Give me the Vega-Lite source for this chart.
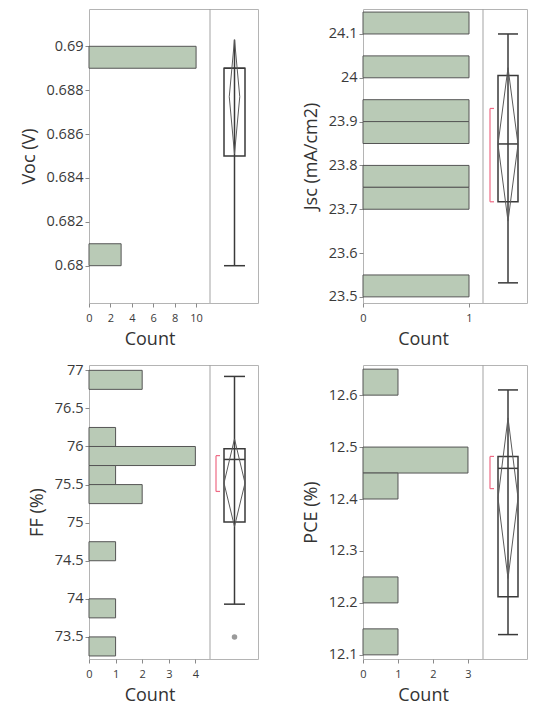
{
  "$schema": "https://vega.github.io/schema/vega-lite/v6.json",
  "autosize": {"type": "pad"},
  "padding": {"left": 19, "top": 8, "right": 0, "bottom": 0},
  "background": "white",
  "columns": 2,
  "bounds": "flush",
  "spacing": {"row": 62, "column": 105},
  "concat": [
    {
      "width": 169, "height": 294,
      "data": {"values": [{"min": 0.680, "q1": 0.685, "med": 0.689, "q3": 0.689, "max": 0.6903, "mean": 0.6877, "ciLo": 0.6851, "ciHi": 0.6903}]},
      "layer": [
        {
          "data": {"values": [{"lo": 0.689, "hi": 0.690, "n": 10}, {"lo": 0.680, "hi": 0.681, "n": 3}]},
          "mark": {"type": "rect", "fill": "#b9cab6", "stroke": "#555555", "strokeWidth": 1},
          "encoding": {
            "x": {"field": "n", "type": "quantitative", "scale": {"domain": [0, 11.3], "range": [0, 121], "nice": false, "zero": true}, "axis": {"values": [0, 2, 4, 6, 8, 10], "title": "Count", "format": "d", "labelOverlap": false}},
            "x2": {"datum": 0},
            "y": {"field": "lo", "type": "quantitative", "scale": {"domain": [0.6783, 0.6917], "nice": false, "zero": false},
              "axis": {"title": "Voc (V)", "values": [0.68, 0.681, 0.682, 0.683, 0.684, 0.685, 0.686, 0.687, 0.688, 0.689, 0.69, 0.691],
                "labelExpr": "round(datum.value*1000) % 2 == 1 ? '' : format(datum.value, '~g')", "labelOverlap": false,
                "tickSize": {"condition": {"test": "round(datum.value*1000) % 2 == 1", "value": 2.5}, "value": 4}}},
            "y2": {"field": "hi"}
          }
        },
        {
          "data": {"values": [{}]},
          "mark": {"type": "rule", "color": "#a3a3a3", "strokeWidth": 1},
          "encoding": {"x": {"datum": 11.3, "type": "quantitative", "scale": {"domain": [0, 11.3], "range": [0, 121], "nice": false, "zero": true}, "axis": null}}
        },
        {"mark": {"type": "rule", "color": "#3a3a3a", "strokeWidth": 1.5},
         "encoding": {"x": {"datum": "C", "type": "nominal", "scale": {"type": "point", "domain": ["L", "DL", "C", "DR", "R"], "range": [135, 156], "padding": 0}, "axis": null},
           "y": {"field": "min", "type": "quantitative"}, "y2": {"field": "max"}}},
        {"mark": {"type": "rect", "fill": "transparent", "stroke": "#3a3a3a", "strokeWidth": 1.5},
         "encoding": {"x": {"datum": "L", "type": "nominal", "scale": {"type": "point", "domain": ["L", "DL", "C", "DR", "R"], "range": [135, 156], "padding": 0}, "axis": null}, "x2": {"datum": "R"},
           "y": {"field": "q1", "type": "quantitative"}, "y2": {"field": "q3"}}},
        {"mark": {"type": "rule", "color": "#3a3a3a", "strokeWidth": 1.5},
         "encoding": {"x": {"datum": "L", "type": "nominal", "scale": {"type": "point", "domain": ["L", "DL", "C", "DR", "R"], "range": [135, 156], "padding": 0}, "axis": null}, "x2": {"datum": "R"},
           "y": {"field": "min", "type": "quantitative"}}},
        {"mark": {"type": "rule", "color": "#3a3a3a", "strokeWidth": 1.5},
         "encoding": {"x": {"datum": "L", "type": "nominal", "scale": {"type": "point", "domain": ["L", "DL", "C", "DR", "R"], "range": [135, 156], "padding": 0}, "axis": null}, "x2": {"datum": "R"},
           "y": {"field": "med", "type": "quantitative"}}},
        {"mark": {"type": "rule", "color": "#5a5a5a", "strokeWidth": 1},
         "encoding": {"x": {"datum": "C", "type": "nominal", "scale": {"type": "point", "domain": ["L", "DL", "C", "DR", "R"], "range": [135, 156], "padding": 0}, "axis": null}, "x2": {"datum": "DR"},
           "y": {"field": "ciHi", "type": "quantitative"}, "y2": {"field": "mean"}}},
        {"mark": {"type": "rule", "color": "#5a5a5a", "strokeWidth": 1},
         "encoding": {"x": {"datum": "C", "type": "nominal", "scale": {"type": "point", "domain": ["L", "DL", "C", "DR", "R"], "range": [135, 156], "padding": 0}, "axis": null}, "x2": {"datum": "DR"},
           "y": {"field": "ciLo", "type": "quantitative"}, "y2": {"field": "mean"}}},
        {"mark": {"type": "rule", "color": "#5a5a5a", "strokeWidth": 1},
         "encoding": {"x": {"datum": "C", "type": "nominal", "scale": {"type": "point", "domain": ["L", "DL", "C", "DR", "R"], "range": [135, 156], "padding": 0}, "axis": null}, "x2": {"datum": "DL"},
           "y": {"field": "ciHi", "type": "quantitative"}, "y2": {"field": "mean"}}},
        {"mark": {"type": "rule", "color": "#5a5a5a", "strokeWidth": 1},
         "encoding": {"x": {"datum": "C", "type": "nominal", "scale": {"type": "point", "domain": ["L", "DL", "C", "DR", "R"], "range": [135, 156], "padding": 0}, "axis": null}, "x2": {"datum": "DL"},
           "y": {"field": "ciLo", "type": "quantitative"}, "y2": {"field": "mean"}}}
      ],
      "resolve": {"scale": {"x": "independent"}, "axis": {"x": "independent"}}
    },
    {
      "width": 164, "height": 294,
      "data": {"values": [{"min": 23.532, "q1": 23.717, "med": 23.849, "q3": 24.005, "max": 24.10, "mean": 23.848, "ciLo": 23.673, "ciHi": 24.023, "shLo": 23.717, "shHi": 23.93}]},
      "layer": [
        {
          "data": {"values": [
            {"lo": 24.10, "hi": 24.15, "n": 1}, {"lo": 24.00, "hi": 24.05, "n": 1}, {"lo": 23.90, "hi": 23.95, "n": 1},
            {"lo": 23.85, "hi": 23.90, "n": 1}, {"lo": 23.75, "hi": 23.80, "n": 1}, {"lo": 23.70, "hi": 23.75, "n": 1},
            {"lo": 23.50, "hi": 23.55, "n": 1}]},
          "mark": {"type": "rect", "fill": "#b9cab6", "stroke": "#555555", "strokeWidth": 1},
          "encoding": {
            "x": {"field": "n", "type": "quantitative", "scale": {"domain": [0, 1.132], "range": [0, 120], "nice": false, "zero": true}, "axis": {"values": [0, 1], "title": "Count", "format": "d", "labelOverlap": false}},
            "x2": {"datum": 0},
            "y": {"field": "lo", "type": "quantitative", "scale": {"domain": [23.486, 24.157], "nice": false, "zero": false},
              "axis": {"title": "Jsc (mA/cm2)", "values": [23.5, 23.55, 23.6, 23.65, 23.7, 23.75, 23.8, 23.85, 23.9, 23.95, 24.0, 24.05, 24.1, 24.15],
                "labelExpr": "round(datum.value*100) % 10 == 5 ? '' : format(datum.value, '~g')", "labelOverlap": false,
                "tickSize": {"condition": {"test": "round(datum.value*100) % 10 == 5", "value": 2.5}, "value": 4}}},
            "y2": {"field": "hi"}
          }
        },
        {
          "data": {"values": [{}]},
          "mark": {"type": "rule", "color": "#a3a3a3", "strokeWidth": 1},
          "encoding": {"x": {"datum": 1.132, "type": "quantitative", "scale": {"domain": [0, 1.132], "range": [0, 120], "nice": false, "zero": true}, "axis": null}}
        },
        {"mark": {"type": "rule", "color": "#3a3a3a", "strokeWidth": 1.5},
         "encoding": {"x": {"datum": "C", "type": "nominal", "scale": {"type": "point", "domain": ["L", "DL", "C", "DR", "R"], "range": [135, 155], "padding": 0}, "axis": null},
           "y": {"field": "min", "type": "quantitative"}, "y2": {"field": "max"}}},
        {"mark": {"type": "rect", "fill": "transparent", "stroke": "#3a3a3a", "strokeWidth": 1.5},
         "encoding": {"x": {"datum": "L", "type": "nominal", "scale": {"type": "point", "domain": ["L", "DL", "C", "DR", "R"], "range": [135, 155], "padding": 0}, "axis": null}, "x2": {"datum": "R"},
           "y": {"field": "q1", "type": "quantitative"}, "y2": {"field": "q3"}}},
        {"mark": {"type": "rule", "color": "#3a3a3a", "strokeWidth": 1.5},
         "encoding": {"x": {"datum": "L", "type": "nominal", "scale": {"type": "point", "domain": ["L", "DL", "C", "DR", "R"], "range": [135, 155], "padding": 0}, "axis": null}, "x2": {"datum": "R"},
           "y": {"field": "min", "type": "quantitative"}}},
        {"mark": {"type": "rule", "color": "#3a3a3a", "strokeWidth": 1.5},
         "encoding": {"x": {"datum": "L", "type": "nominal", "scale": {"type": "point", "domain": ["L", "DL", "C", "DR", "R"], "range": [135, 155], "padding": 0}, "axis": null}, "x2": {"datum": "R"},
           "y": {"field": "max", "type": "quantitative"}}},
        {"mark": {"type": "rule", "color": "#3a3a3a", "strokeWidth": 1.5},
         "encoding": {"x": {"datum": "L", "type": "nominal", "scale": {"type": "point", "domain": ["L", "DL", "C", "DR", "R"], "range": [135, 155], "padding": 0}, "axis": null}, "x2": {"datum": "R"},
           "y": {"field": "med", "type": "quantitative"}}},
        {"mark": {"type": "rule", "color": "#5a5a5a", "strokeWidth": 1},
         "encoding": {"x": {"datum": "C", "type": "nominal", "scale": {"type": "point", "domain": ["L", "DL", "C", "DR", "R"], "range": [135, 155], "padding": 0}, "axis": null}, "x2": {"datum": "R"},
           "y": {"field": "ciHi", "type": "quantitative"}, "y2": {"field": "mean"}}},
        {"mark": {"type": "rule", "color": "#5a5a5a", "strokeWidth": 1},
         "encoding": {"x": {"datum": "C", "type": "nominal", "scale": {"type": "point", "domain": ["L", "DL", "C", "DR", "R"], "range": [135, 155], "padding": 0}, "axis": null}, "x2": {"datum": "R"},
           "y": {"field": "ciLo", "type": "quantitative"}, "y2": {"field": "mean"}}},
        {"mark": {"type": "rule", "color": "#5a5a5a", "strokeWidth": 1},
         "encoding": {"x": {"datum": "C", "type": "nominal", "scale": {"type": "point", "domain": ["L", "DL", "C", "DR", "R"], "range": [135, 155], "padding": 0}, "axis": null}, "x2": {"datum": "L"},
           "y": {"field": "ciHi", "type": "quantitative"}, "y2": {"field": "mean"}}},
        {"mark": {"type": "rule", "color": "#5a5a5a", "strokeWidth": 1},
         "encoding": {"x": {"datum": "C", "type": "nominal", "scale": {"type": "point", "domain": ["L", "DL", "C", "DR", "R"], "range": [135, 155], "padding": 0}, "axis": null}, "x2": {"datum": "L"},
           "y": {"field": "ciLo", "type": "quantitative"}, "y2": {"field": "mean"}}},
        {"mark": {"type": "rule", "color": "#ee6a84", "strokeWidth": 1.2, "xOffset": -8},
         "encoding": {"x": {"datum": "L", "type": "nominal", "scale": {"type": "point", "domain": ["L", "DL", "C", "DR", "R"], "range": [135, 155], "padding": 0}, "axis": null},
           "y": {"field": "shLo", "type": "quantitative"}, "y2": {"field": "shHi"}}},
        {"mark": {"type": "rule", "color": "#ee6a84", "strokeWidth": 1.2, "xOffset": -8, "x2Offset": -4},
         "encoding": {"x": {"datum": "L", "type": "nominal", "scale": {"type": "point", "domain": ["L", "DL", "C", "DR", "R"], "range": [135, 155], "padding": 0}, "axis": null}, "x2": {"datum": "L"},
           "y": {"field": "shLo", "type": "quantitative"}}},
        {"mark": {"type": "rule", "color": "#ee6a84", "strokeWidth": 1.2, "xOffset": -8, "x2Offset": -4},
         "encoding": {"x": {"datum": "L", "type": "nominal", "scale": {"type": "point", "domain": ["L", "DL", "C", "DR", "R"], "range": [135, 155], "padding": 0}, "axis": null}, "x2": {"datum": "L"},
           "y": {"field": "shHi", "type": "quantitative"}}}
      ],
      "resolve": {"scale": {"x": "independent"}, "axis": {"x": "independent"}}
    },
    {
      "width": 169, "height": 294,
      "data": {"values": [{"min": 73.93, "q1": 75.01, "med": 75.83, "q3": 75.97, "max": 76.92, "mean": 75.52, "ciLo": 74.95, "ciHi": 76.1, "shLo": 75.41, "shHi": 75.88, "out": 73.5}]},
      "layer": [
        {
          "data": {"values": [
            {"lo": 76.75, "hi": 77.00, "n": 2}, {"lo": 76.00, "hi": 76.25, "n": 1}, {"lo": 75.75, "hi": 76.00, "n": 4},
            {"lo": 75.50, "hi": 75.75, "n": 1}, {"lo": 75.25, "hi": 75.50, "n": 2}, {"lo": 74.50, "hi": 74.75, "n": 1},
            {"lo": 73.75, "hi": 74.00, "n": 1}, {"lo": 73.25, "hi": 73.50, "n": 1}]},
          "mark": {"type": "rect", "fill": "#b9cab6", "stroke": "#555555", "strokeWidth": 1},
          "encoding": {
            "x": {"field": "n", "type": "quantitative", "scale": {"domain": [0, 4.55], "range": [0, 121], "nice": false, "zero": true}, "axis": {"values": [0, 1, 2, 3, 4], "title": "Count", "format": "d", "labelOverlap": false}},
            "x2": {"datum": 0},
            "y": {"field": "lo", "type": "quantitative", "scale": {"domain": [73.21, 77.07], "nice": false, "zero": false},
              "axis": {"title": "FF (%)", "values": [73.5, 73.75, 74, 74.25, 74.5, 74.75, 75, 75.25, 75.5, 75.75, 76, 76.25, 76.5, 76.75, 77],
                "labelExpr": "round(datum.value*100) % 50 == 25 ? '' : format(datum.value, '~g')", "labelOverlap": false,
                "tickSize": {"condition": {"test": "round(datum.value*100) % 50 == 25", "value": 2.5}, "value": 4}}},
            "y2": {"field": "hi"}
          }
        },
        {
          "data": {"values": [{}]},
          "mark": {"type": "rule", "color": "#a3a3a3", "strokeWidth": 1},
          "encoding": {"x": {"datum": 4.55, "type": "quantitative", "scale": {"domain": [0, 4.55], "range": [0, 121], "nice": false, "zero": true}, "axis": null}}
        },
        {"mark": {"type": "rule", "color": "#3a3a3a", "strokeWidth": 1.5},
         "encoding": {"x": {"datum": "C", "type": "nominal", "scale": {"type": "point", "domain": ["L", "DL", "C", "DR", "R"], "range": [135, 156], "padding": 0}, "axis": null},
           "y": {"field": "min", "type": "quantitative"}, "y2": {"field": "max"}}},
        {"mark": {"type": "rect", "fill": "transparent", "stroke": "#3a3a3a", "strokeWidth": 1.5},
         "encoding": {"x": {"datum": "L", "type": "nominal", "scale": {"type": "point", "domain": ["L", "DL", "C", "DR", "R"], "range": [135, 156], "padding": 0}, "axis": null}, "x2": {"datum": "R"},
           "y": {"field": "q1", "type": "quantitative"}, "y2": {"field": "q3"}}},
        {"mark": {"type": "rule", "color": "#3a3a3a", "strokeWidth": 1.5},
         "encoding": {"x": {"datum": "L", "type": "nominal", "scale": {"type": "point", "domain": ["L", "DL", "C", "DR", "R"], "range": [135, 156], "padding": 0}, "axis": null}, "x2": {"datum": "R"},
           "y": {"field": "min", "type": "quantitative"}}},
        {"mark": {"type": "rule", "color": "#3a3a3a", "strokeWidth": 1.5},
         "encoding": {"x": {"datum": "L", "type": "nominal", "scale": {"type": "point", "domain": ["L", "DL", "C", "DR", "R"], "range": [135, 156], "padding": 0}, "axis": null}, "x2": {"datum": "R"},
           "y": {"field": "max", "type": "quantitative"}}},
        {"mark": {"type": "rule", "color": "#3a3a3a", "strokeWidth": 1.5},
         "encoding": {"x": {"datum": "L", "type": "nominal", "scale": {"type": "point", "domain": ["L", "DL", "C", "DR", "R"], "range": [135, 156], "padding": 0}, "axis": null}, "x2": {"datum": "R"},
           "y": {"field": "med", "type": "quantitative"}}},
        {"mark": {"type": "rule", "color": "#5a5a5a", "strokeWidth": 1},
         "encoding": {"x": {"datum": "C", "type": "nominal", "scale": {"type": "point", "domain": ["L", "DL", "C", "DR", "R"], "range": [135, 156], "padding": 0}, "axis": null}, "x2": {"datum": "R"},
           "y": {"field": "ciHi", "type": "quantitative"}, "y2": {"field": "mean"}}},
        {"mark": {"type": "rule", "color": "#5a5a5a", "strokeWidth": 1},
         "encoding": {"x": {"datum": "C", "type": "nominal", "scale": {"type": "point", "domain": ["L", "DL", "C", "DR", "R"], "range": [135, 156], "padding": 0}, "axis": null}, "x2": {"datum": "R"},
           "y": {"field": "ciLo", "type": "quantitative"}, "y2": {"field": "mean"}}},
        {"mark": {"type": "rule", "color": "#5a5a5a", "strokeWidth": 1},
         "encoding": {"x": {"datum": "C", "type": "nominal", "scale": {"type": "point", "domain": ["L", "DL", "C", "DR", "R"], "range": [135, 156], "padding": 0}, "axis": null}, "x2": {"datum": "L"},
           "y": {"field": "ciHi", "type": "quantitative"}, "y2": {"field": "mean"}}},
        {"mark": {"type": "rule", "color": "#5a5a5a", "strokeWidth": 1},
         "encoding": {"x": {"datum": "C", "type": "nominal", "scale": {"type": "point", "domain": ["L", "DL", "C", "DR", "R"], "range": [135, 156], "padding": 0}, "axis": null}, "x2": {"datum": "L"},
           "y": {"field": "ciLo", "type": "quantitative"}, "y2": {"field": "mean"}}},
        {"mark": {"type": "rule", "color": "#ee6a84", "strokeWidth": 1.2, "xOffset": -8},
         "encoding": {"x": {"datum": "L", "type": "nominal", "scale": {"type": "point", "domain": ["L", "DL", "C", "DR", "R"], "range": [135, 156], "padding": 0}, "axis": null},
           "y": {"field": "shLo", "type": "quantitative"}, "y2": {"field": "shHi"}}},
        {"mark": {"type": "rule", "color": "#ee6a84", "strokeWidth": 1.2, "xOffset": -8, "x2Offset": -4},
         "encoding": {"x": {"datum": "L", "type": "nominal", "scale": {"type": "point", "domain": ["L", "DL", "C", "DR", "R"], "range": [135, 156], "padding": 0}, "axis": null}, "x2": {"datum": "L"},
           "y": {"field": "shLo", "type": "quantitative"}}},
        {"mark": {"type": "rule", "color": "#ee6a84", "strokeWidth": 1.2, "xOffset": -8, "x2Offset": -4},
         "encoding": {"x": {"datum": "L", "type": "nominal", "scale": {"type": "point", "domain": ["L", "DL", "C", "DR", "R"], "range": [135, 156], "padding": 0}, "axis": null}, "x2": {"datum": "L"},
           "y": {"field": "shHi", "type": "quantitative"}}},
        {"mark": {"type": "point", "filled": true, "color": "#9a9a9a", "size": 30, "opacity": 1},
         "encoding": {"x": {"datum": "C", "type": "nominal", "scale": {"type": "point", "domain": ["L", "DL", "C", "DR", "R"], "range": [135, 156], "padding": 0}, "axis": null},
           "y": {"field": "out", "type": "quantitative"}}}
      ],
      "resolve": {"scale": {"x": "independent"}, "axis": {"x": "independent"}}
    },
    {
      "width": 164, "height": 294,
      "data": {"values": [{"min": 12.139, "q1": 12.212, "med": 12.459, "q3": 12.482, "max": 12.61, "mean": 12.402, "ciLo": 12.247, "ciHi": 12.556, "shLo": 12.42, "shHi": 12.482}]},
      "layer": [
        {
          "data": {"values": [
            {"lo": 12.60, "hi": 12.65, "n": 1}, {"lo": 12.45, "hi": 12.50, "n": 3}, {"lo": 12.40, "hi": 12.45, "n": 1},
            {"lo": 12.20, "hi": 12.25, "n": 1}, {"lo": 12.10, "hi": 12.15, "n": 1}]},
          "mark": {"type": "rect", "fill": "#b9cab6", "stroke": "#555555", "strokeWidth": 1},
          "encoding": {
            "x": {"field": "n", "type": "quantitative", "scale": {"domain": [0, 3.43], "range": [0, 120], "nice": false, "zero": true}, "axis": {"values": [0, 1, 2, 3], "title": "Count", "format": "d", "labelOverlap": false}},
            "x2": {"datum": 0},
            "y": {"field": "lo", "type": "quantitative", "scale": {"domain": [12.092, 12.658], "nice": false, "zero": false},
              "axis": {"title": "PCE (%)", "values": [12.1, 12.15, 12.2, 12.25, 12.3, 12.35, 12.4, 12.45, 12.5, 12.55, 12.6, 12.65],
                "labelExpr": "round(datum.value*100) % 10 == 5 ? '' : format(datum.value, '~g')", "labelOverlap": false,
                "tickSize": {"condition": {"test": "round(datum.value*100) % 10 == 5", "value": 2.5}, "value": 4}}},
            "y2": {"field": "hi"}
          }
        },
        {
          "data": {"values": [{}]},
          "mark": {"type": "rule", "color": "#a3a3a3", "strokeWidth": 1},
          "encoding": {"x": {"datum": 3.43, "type": "quantitative", "scale": {"domain": [0, 3.43], "range": [0, 120], "nice": false, "zero": true}, "axis": null}}
        },
        {"mark": {"type": "rule", "color": "#3a3a3a", "strokeWidth": 1.5},
         "encoding": {"x": {"datum": "C", "type": "nominal", "scale": {"type": "point", "domain": ["L", "DL", "C", "DR", "R"], "range": [135, 155], "padding": 0}, "axis": null},
           "y": {"field": "min", "type": "quantitative"}, "y2": {"field": "max"}}},
        {"mark": {"type": "rect", "fill": "transparent", "stroke": "#3a3a3a", "strokeWidth": 1.5},
         "encoding": {"x": {"datum": "L", "type": "nominal", "scale": {"type": "point", "domain": ["L", "DL", "C", "DR", "R"], "range": [135, 155], "padding": 0}, "axis": null}, "x2": {"datum": "R"},
           "y": {"field": "q1", "type": "quantitative"}, "y2": {"field": "q3"}}},
        {"mark": {"type": "rule", "color": "#3a3a3a", "strokeWidth": 1.5},
         "encoding": {"x": {"datum": "L", "type": "nominal", "scale": {"type": "point", "domain": ["L", "DL", "C", "DR", "R"], "range": [135, 155], "padding": 0}, "axis": null}, "x2": {"datum": "R"},
           "y": {"field": "min", "type": "quantitative"}}},
        {"mark": {"type": "rule", "color": "#3a3a3a", "strokeWidth": 1.5},
         "encoding": {"x": {"datum": "L", "type": "nominal", "scale": {"type": "point", "domain": ["L", "DL", "C", "DR", "R"], "range": [135, 155], "padding": 0}, "axis": null}, "x2": {"datum": "R"},
           "y": {"field": "max", "type": "quantitative"}}},
        {"mark": {"type": "rule", "color": "#3a3a3a", "strokeWidth": 1.5},
         "encoding": {"x": {"datum": "L", "type": "nominal", "scale": {"type": "point", "domain": ["L", "DL", "C", "DR", "R"], "range": [135, 155], "padding": 0}, "axis": null}, "x2": {"datum": "R"},
           "y": {"field": "med", "type": "quantitative"}}},
        {"mark": {"type": "rule", "color": "#5a5a5a", "strokeWidth": 1},
         "encoding": {"x": {"datum": "C", "type": "nominal", "scale": {"type": "point", "domain": ["L", "DL", "C", "DR", "R"], "range": [135, 155], "padding": 0}, "axis": null}, "x2": {"datum": "R"},
           "y": {"field": "ciHi", "type": "quantitative"}, "y2": {"field": "mean"}}},
        {"mark": {"type": "rule", "color": "#5a5a5a", "strokeWidth": 1},
         "encoding": {"x": {"datum": "C", "type": "nominal", "scale": {"type": "point", "domain": ["L", "DL", "C", "DR", "R"], "range": [135, 155], "padding": 0}, "axis": null}, "x2": {"datum": "R"},
           "y": {"field": "ciLo", "type": "quantitative"}, "y2": {"field": "mean"}}},
        {"mark": {"type": "rule", "color": "#5a5a5a", "strokeWidth": 1},
         "encoding": {"x": {"datum": "C", "type": "nominal", "scale": {"type": "point", "domain": ["L", "DL", "C", "DR", "R"], "range": [135, 155], "padding": 0}, "axis": null}, "x2": {"datum": "L"},
           "y": {"field": "ciHi", "type": "quantitative"}, "y2": {"field": "mean"}}},
        {"mark": {"type": "rule", "color": "#5a5a5a", "strokeWidth": 1},
         "encoding": {"x": {"datum": "C", "type": "nominal", "scale": {"type": "point", "domain": ["L", "DL", "C", "DR", "R"], "range": [135, 155], "padding": 0}, "axis": null}, "x2": {"datum": "L"},
           "y": {"field": "ciLo", "type": "quantitative"}, "y2": {"field": "mean"}}},
        {"mark": {"type": "rule", "color": "#ee6a84", "strokeWidth": 1.2, "xOffset": -8},
         "encoding": {"x": {"datum": "L", "type": "nominal", "scale": {"type": "point", "domain": ["L", "DL", "C", "DR", "R"], "range": [135, 155], "padding": 0}, "axis": null},
           "y": {"field": "shLo", "type": "quantitative"}, "y2": {"field": "shHi"}}},
        {"mark": {"type": "rule", "color": "#ee6a84", "strokeWidth": 1.2, "xOffset": -8, "x2Offset": -4},
         "encoding": {"x": {"datum": "L", "type": "nominal", "scale": {"type": "point", "domain": ["L", "DL", "C", "DR", "R"], "range": [135, 155], "padding": 0}, "axis": null}, "x2": {"datum": "L"},
           "y": {"field": "shLo", "type": "quantitative"}}},
        {"mark": {"type": "rule", "color": "#ee6a84", "strokeWidth": 1.2, "xOffset": -8, "x2Offset": -4},
         "encoding": {"x": {"datum": "L", "type": "nominal", "scale": {"type": "point", "domain": ["L", "DL", "C", "DR", "R"], "range": [135, 155], "padding": 0}, "axis": null}, "x2": {"datum": "L"},
           "y": {"field": "shHi", "type": "quantitative"}}}
      ],
      "resolve": {"scale": {"x": "independent"}, "axis": {"x": "independent"}}
    }
  ],
  "config": {
    "view": {"stroke": "#b4b4b4", "strokeWidth": 1},
    "font": "Open Sans",
    "axis": {"labelFont": "Open Sans", "titleFont": "Open Sans", "titleFontWeight": "normal", "labelColor": "#3a3a3a", "titleColor": "#333333", "tickColor": "#8a8a8a", "domain": false, "grid": false, "labelOverlap": false},
    "axisY": {"labelFontSize": 14.5, "titleFontSize": 18, "labelPadding": 2, "titlePadding": 8},
    "axisX": {"labelFontSize": 11, "titleFontSize": 18, "tickSize": 4, "labelPadding": 5, "titlePadding": 7, "labelFlush": false}
  }
}
